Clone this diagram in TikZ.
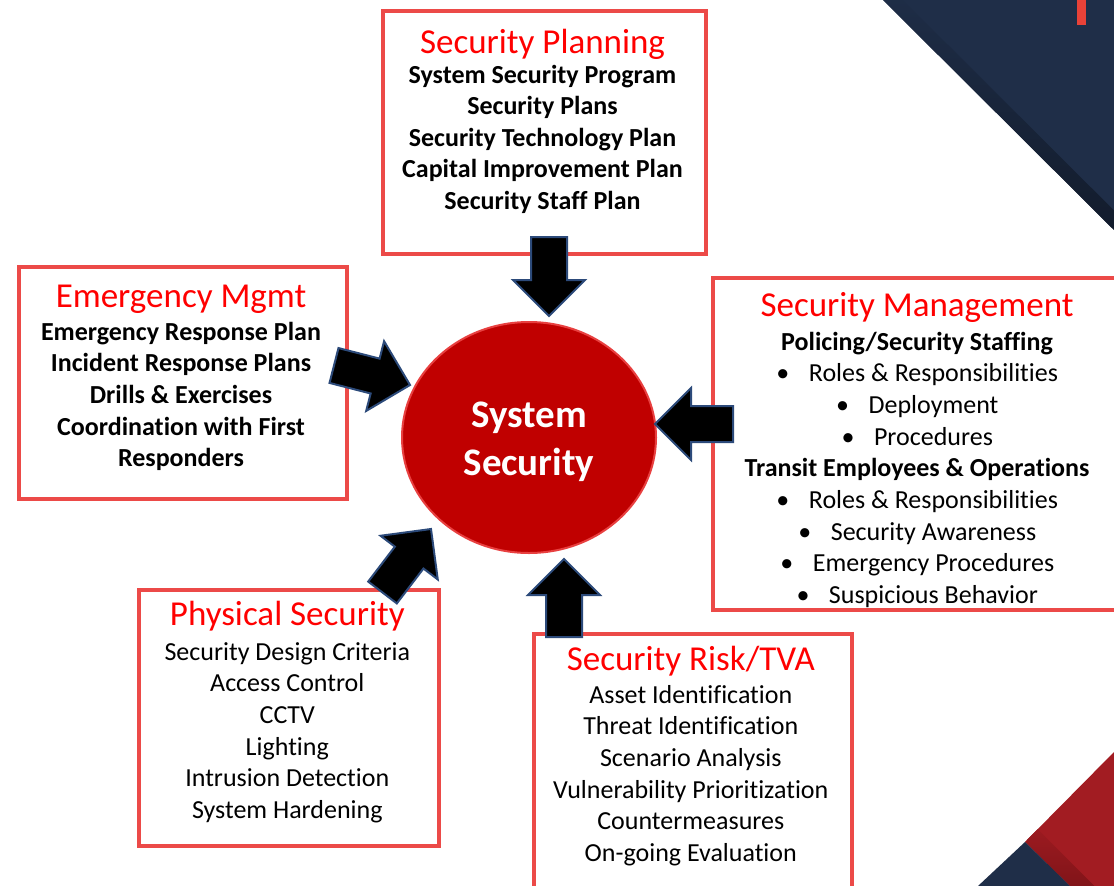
\documentclass[tikz,border=0pt]{standalone}
\usepackage{fontspec}
\setmainfont{Carlito}[Ligatures={NoCommon}]
\usetikzlibrary{calc,shapes.geometric}

\definecolor{boxred}{RGB}{236,74,72}
\definecolor{titlered}{RGB}{255,0,0}
\definecolor{circfill}{RGB}{192,0,0}
\definecolor{circline}{RGB}{232,64,64}
\definecolor{arrline}{RGB}{44,74,122}
\definecolor{navy}{RGB}{31,46,72}
\definecolor{darknavy}{RGB}{18,27,43}
\definecolor{decored}{RGB}{162,28,34}
\definecolor{darkred}{RGB}{120,18,22}
\definecolor{barred}{RGB}{232,66,56}

\tikzset{
  frame/.style={draw=boxred, line width=4pt, fill=white, inner sep=0pt, anchor=north west},
  ttl/.style={anchor=base, text=titlered, font=\fontsize{35}{42}\selectfont, inner sep=0pt},
  bline/.style={anchor=base, font=\fontsize{26}{31}\selectfont\bfseries, inner sep=0pt},
  rline/.style={anchor=base, font=\fontsize{26}{31}\selectfont, inner sep=0pt},
  arr/.style={fill=black, draw=arrline, line width=2pt, line join=miter},
}

% bullet followed by a fixed gap
\newcommand{\smbullet}[1]{\makebox[14pt]{\textbullet}\hspace{19pt}#1}

% block arrow from a tail point to a tip point
\newcommand{\blockarrow}[2]{%
  \coordinate (neck) at ($(#2)!36pt!(#1)$);
  \draw[arr] ($(#1)!18pt!90:(#2)$) -- ($(neck)!18pt!90:(#2)$) -- ($(neck)!36pt!90:(#2)$)
    -- (#2) -- ($(neck)!36pt!-90:(#2)$) -- ($(neck)!18pt!-90:(#2)$)
    -- ($(#1)!18pt!-90:(#2)$) -- cycle;}

\begin{document}
\begin{tikzpicture}[x=1pt, y=-1pt]
\useasboundingbox (0,0) rectangle (1114,886);
\clip (0,0) rectangle (1114,886);
\fill[white] (0,0) rectangle (1114,886);

% corner decoration, top right
\fill[navy] (883,0) -- (1114,0) -- (1114,230) -- cycle;
\begin{scope}
  \clip (883,0) -- (1114,0) -- (1114,230) -- cycle;
  \begin{scope}[shift={(883,0)}, rotate=-44.9]
    \shade[top color=navy, bottom color=darknavy] (-10,-14) rectangle (340,0);
  \end{scope}
\end{scope}
\fill[barred] (1077,0) rectangle (1086,25);

% corner decoration, bottom right
\fill[decored] (1025,842) -- (1114,752) -- (1114,886) -- (1070,886) -- cycle;
\begin{scope}
  \clip (1025,842) -- (1114,752) -- (1114,886) -- (1070,886) -- cycle;
  \begin{scope}[shift={(1025,842)}, rotate=-45]
    \shade[top color=decored, bottom color=darkred] (-20,-18) rectangle (90,0);
  \end{scope}
\end{scope}
\fill[navy] (978,886) -- (1025,842) -- (1070,886) -- cycle;

% frames
\node[frame, minimum width=323.3pt, minimum height=242.7pt] (plan) at (380.7,9) {};
\node[frame, minimum width=328.3pt, minimum height=231.7pt] (emer) at (16.7,265) {};
\node[frame, minimum width=412pt, minimum height=332pt] (mgmt) at (711,276) {};
\node[frame, minimum width=300pt, minimum height=256pt] (phys) at (137.3,588) {};
\node[frame, minimum width=318.3pt, minimum height=268.3pt] (risk) at (531.7,631.7) {};

% central ellipse
\node[ellipse, fill=circfill, draw=circline, line width=2pt, minimum width=254pt,
      minimum height=231pt, inner sep=0pt] (sys) at (529,437.5) {};
\node[text=white, font=\fontsize{39}{48}\selectfont\bfseries, align=center, inner sep=0pt]
  (sys-t) at (529,441.5) {System\\Security};

% Security Planning
\node[ttl] (plan-t) at (542.5,53) {Security Planning};
\foreach \t [count=\i] in {System Security Program, Security Plans, Security Technology Plan,
    Capital Improvement Plan, Security Staff Plan}
  \node[bline] (plan-\i) at (542.5,{83+(\i-1)*31.5}) {\t};

% Emergency Mgmt
\node[ttl] (emer-t) at (181,307.5) {Emergency Mgmt};
\foreach \t [count=\i] in {Emergency Response Plan, Incident Response Plans, Drills \& Exercises,
    Coordination with First, Responders}
  \node[bline] (emer-\i) at (181,{340+(\i-1)*31.67}) {\t};

% Security Management
\node[ttl] (mgmt-t) at (917,316.7) {Security Management};
\foreach \t [count=\i] in {{\bfseries Policing/Security Staffing},
    {\smbullet{Roles \& Responsibilities}}, {\smbullet{Deployment}}, {\smbullet{Procedures}},
    {\bfseries Transit Employees \& Operations},
    {\smbullet{Roles \& Responsibilities}}, {\smbullet{Security Awareness}},
    {\smbullet{Emergency Procedures}}, {\smbullet{Suspicious Behavior}}}
  \node[rline] (mgmt-\i) at (917,{350+(\i-1)*31.67}) {\t};

% Physical Security
\node[ttl] (phys-t) at (287.3,625) {Physical Security};
\foreach \t [count=\i] in {Security Design Criteria, Access Control, CCTV, Lighting,
    Intrusion Detection, System Hardening}
  \node[rline] (phys-\i) at (287.3,{660+(\i-1)*31.67}) {\t};

% Security Risk/TVA
\node[ttl] (risk-t) at (690.8,670) {Security Risk/TVA};
\foreach \t [count=\i] in {Asset Identification, Threat Identification, Scenario Analysis,
    Vulnerability Prioritization, Countermeasures, On-going Evaluation}
  \node[rline] (risk-\i) at (690.8,{703.3+(\i-1)*31.67}) {\t};

% arrows into the centre
\coordinate (a1t) at (549,237);   \coordinate (a1h) at (549,316);
\coordinate (a2t) at (334,365.5); \coordinate (a2h) at (410,385);
\coordinate (a3t) at (733,424);   \coordinate (a3h) at (655,424);
\coordinate (a4t) at (382.5,592.5); \coordinate (a4h) at (431,529);
\coordinate (a5t) at (564,637);   \coordinate (a5h) at (564,559);
\blockarrow{a1t}{a1h}
\blockarrow{a2t}{a2h}
\blockarrow{a3t}{a3h}
\blockarrow{a4t}{a4h}
\blockarrow{a5t}{a5h}
\end{tikzpicture}
\end{document}
